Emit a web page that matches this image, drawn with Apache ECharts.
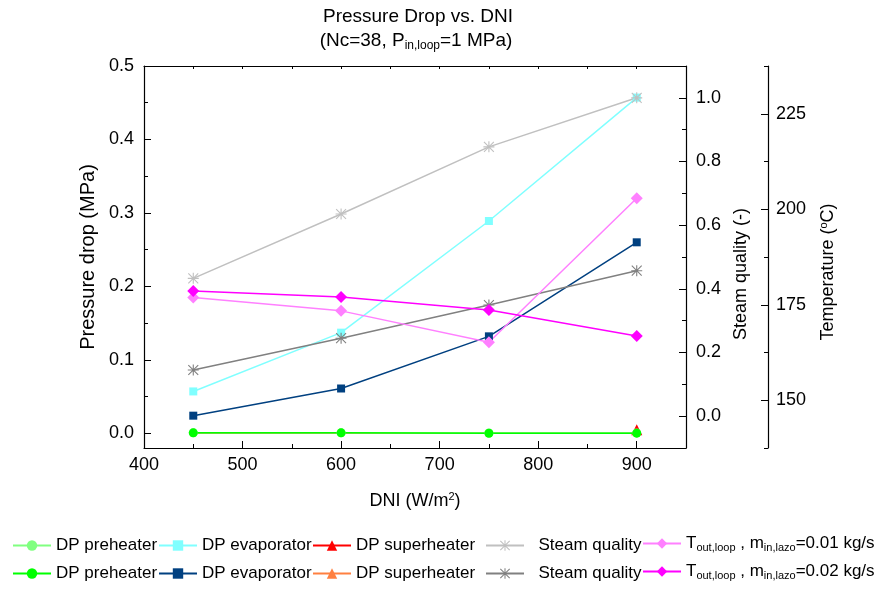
<!DOCTYPE html>
<html>
<head>
<meta charset="utf-8">
<script src="https://cdn.jsdelivr.net/npm/echarts@6/dist/echarts.min.js"></script>
<style>
html,body{margin:0;padding:0;background:#fff;}
#chart{width:876px;height:590px;}
</style>
</head>
<body>
<div id="chart"></div>
<script>
// ---- data ----
const dni = [450, 600, 750, 900];
const dpPre1 = [0.0008, 0.0008, 0.0004, 0.0004];
const dpPre2 = [0.0006, 0.0006, 0.0001, 0.0002];
const dpEvap1 = [0.057, 0.137, 0.289, 0.457];
const dpEvap2 = [0.024, 0.061, 0.132, 0.260];
const dpSup1 = [null, null, null, 0.005];
const dpSup2 = [0.0, 0.0, 0.0, 0.0];
const quality1 = [0.433, 0.635, 0.846, 1.0];
const quality2 = [0.145, 0.245, 0.349, 0.457];
const tOut1 = [176.9, 173.4, 165.2, 202.9];
const tOut2 = [178.6, 177.0, 173.6, 166.8];

const xTicks = [400, 500, 600, 700, 800, 900];
const xMinor = [450, 550, 650, 750, 850, 950];
const pTicks = [0.0, 0.1, 0.2, 0.3, 0.4, 0.5];
const pMinor = [0.05, 0.15, 0.25, 0.35, 0.45];
const qTicks = [0.0, 0.2, 0.4, 0.6, 0.8, 1.0];
const qMinor = [0.1, 0.3, 0.5, 0.7, 0.9];
const tTicks = [150, 175, 200, 225];
const tMinor = [137.5, 162.5, 187.5, 212.5, 237.5];

const FONT = 'Liberation Sans, Arial, Helvetica, sans-serif';
const STAR = 'path://M9 0L11 0L11 20L9 20Z M0 9L20 9L20 11L0 11Z M0.3 1.7L1.7 0.3L19.7 18.3L18.3 19.7Z M18.3 0.3L19.7 1.7L1.7 19.7L0.3 18.3Z';

function pairs(ys) { return dni.map((x, i) => [x, ys[i]]); }

const labels = {
  pre1: 'DP preheater', pre2: 'DP preheater',
  evap1: 'DP evaporator', evap2: 'DP evaporator',
  sup1: 'DP superheater', sup2: 'DP superheater',
  q1: '  Steam quality', q2: '  Steam quality',
  t1: 'T{sub|out,loop} , m{sub|in,lazo}=0.01 kg/s',
  t2: 'T{sub|out,loop} , m{sub|in,lazo}=0.02 kg/s'
};

function mkSeries(name, ys, color, symbol, size, yIdx) {
  return {
    name: name, type: 'line', data: pairs(ys), xAxisIndex: 0, yAxisIndex: yIdx,
    symbol: symbol, symbolSize: size, showSymbol: true, connectNulls: false,
    lineStyle: { color: color, width: 1.5 },
    itemStyle: { color: color },
    emphasis: { disabled: true }, animation: false
  };
}

const series = [
  mkSeries('sup1', dpSup1, '#ff0000', 'triangle', 11, 0),
  mkSeries('sup2', dpSup2, '#ff8040', 'triangle', 6, 0),
  mkSeries('pre1', dpPre1, '#80ff80', 'circle', 9, 0),
  mkSeries('pre2', dpPre2, '#00ff00', 'circle', 9, 0),
  mkSeries('evap1', dpEvap1, '#80ffff', 'rect', 8, 0),
  mkSeries('evap2', dpEvap2, '#004080', 'rect', 8, 0),
  mkSeries('q1', quality1, '#c0c0c0', STAR, 11, 2),
  mkSeries('q2', quality2, '#808080', STAR, 11, 2),
  mkSeries('t1', tOut1, '#ff80ff', 'diamond', 12, 4),
  mkSeries('t2', tOut2, '#ff00ff', 'diamond', 12, 4)
];

const subRich = {
  sub: { fontSize: 11, fontFamily: FONT, color: '#000', padding: [9, 0, 0, 0] }
};
const subRichTitle = {
  sub: { fontSize: 12, fontFamily: FONT, color: '#000', padding: [10, 0, 0, 0] }
};

function mkLegend(name, left, top) {
  return {
    data: [name], left: left, top: top, orient: 'horizontal',
    itemWidth: 38, itemHeight: 13, itemGap: 0, padding: 0,
    selectedMode: false,
    formatter: function (n) { return labels[n]; },
    textStyle: { fontFamily: FONT, fontSize: 17, color: '#000', rich: subRich }
  };
}

const r1 = 537, r2 = 565;
const legends = [
  mkLegend('pre1', 12, r1), mkLegend('pre2', 12, r2),
  mkLegend('evap1', 158, r1), mkLegend('evap2', 158, r2),
  mkLegend('sup1', 312, r1), mkLegend('sup2', 312, r2),
  mkLegend('q1', 485, r1), mkLegend('q2', 485, r2),
  mkLegend('t1', 642, r1 - 2), mkLegend('t2', 642, r2 - 2)
];

const axisLineStyle = { show: true, onZero: false, lineStyle: { color: '#000', width: 1.2 } };
const noLine = { show: false, onZero: false };
const tickLbl = { fontFamily: FONT, fontSize: 18, color: '#000' };
const nameStyle = { fontFamily: FONT, fontSize: 18, color: '#000' };
const supRich = { sup: { fontSize: 11, fontFamily: FONT, color: '#000', padding: [0, 0, 9, 0] } };

const option = {
  backgroundColor: '#fff',
  animation: false,
  title: [
    { text: 'Pressure Drop vs. DNI', left: 418, top: 7, textAlign: 'center', padding: 0,
      textStyle: { fontFamily: FONT, fontSize: 19, fontWeight: 'normal', color: '#000' } },
    { text: '(Nc=38, P{sub|in,loop}=1 MPa)', left: 416, top: 30, textAlign: 'center', padding: 0,
      textStyle: { fontFamily: FONT, fontSize: 19, fontWeight: 'normal', color: '#000', rich: subRichTitle } }
  ],
  legend: legends,
  grid: { left: 144, right: 190, top: 66, bottom: 142, containLabel: false },
  xAxis: [
    { type: 'value', position: 'bottom', min: 400, max: 950,
      axisLine: axisLineStyle,
      axisTick: { show: true, inside: true, length: 7, customValues: xTicks, lineStyle: { color: '#000' } },
      axisLabel: { customValues: xTicks, margin: 8, ...tickLbl },
      splitLine: { show: false },
      name: 'DNI (W/m{sup|2})', nameLocation: 'middle', nameGap: 43,
      nameTextStyle: { ...nameStyle, rich: supRich }
    },
    { type: 'value', position: 'bottom', min: 400, max: 950,
      axisLine: noLine,
      axisTick: { show: true, inside: true, length: 4, customValues: xMinor, lineStyle: { color: '#000' } },
      axisLabel: { show: false }, splitLine: { show: false } },
    { type: 'value', position: 'top', min: 400, max: 950,
      axisLine: axisLineStyle,
      axisTick: { show: true, inside: true, length: 3, customValues: xTicks.concat(xMinor), lineStyle: { color: '#000' } },
      axisLabel: { show: false }, splitLine: { show: false } }
  ],
  yAxis: [
    { type: 'value', position: 'left', min: -0.02, max: 0.5,
      axisLine: axisLineStyle,
      axisTick: { show: true, inside: true, length: 7, customValues: pTicks, lineStyle: { color: '#000' } },
      axisLabel: { customValues: pTicks, margin: 10, formatter: v => v.toFixed(1), ...tickLbl },
      splitLine: { show: false },
      name: 'Pressure drop (MPa)', nameLocation: 'middle', nameGap: 42,
      nameTextStyle: { ...nameStyle, fontSize: 20 } },
    { type: 'value', position: 'left', min: -0.02, max: 0.5,
      axisLine: noLine,
      axisTick: { show: true, inside: true, length: 4, customValues: pMinor, lineStyle: { color: '#000' } },
      axisLabel: { show: false }, splitLine: { show: false } },
    { type: 'value', position: 'right', offset: 0, min: -0.1, max: 1.1,
      axisLine: axisLineStyle,
      axisTick: { show: true, inside: true, length: 7, customValues: qTicks, lineStyle: { color: '#000' } },
      axisLabel: { customValues: qTicks, margin: 10, formatter: v => v.toFixed(1), ...tickLbl },
      splitLine: { show: false },
      name: 'Steam quality (-)', nameLocation: 'middle', nameGap: 40,
      nameTextStyle: { ...nameStyle, padding: [0, 34, 0, 0] } },
    { type: 'value', position: 'right', offset: 0, min: -0.1, max: 1.1,
      axisLine: noLine,
      axisTick: { show: true, inside: true, length: 4, customValues: qMinor, lineStyle: { color: '#000' } },
      axisLabel: { show: false }, splitLine: { show: false } },
    { type: 'value', position: 'right', offset: 82, min: 137.5, max: 237.5,
      axisLine: axisLineStyle,
      axisTick: { show: true, inside: true, length: 7, customValues: tTicks, lineStyle: { color: '#000' } },
      axisLabel: { customValues: tTicks, margin: 8, ...tickLbl },
      splitLine: { show: false },
      name: 'Temperature ({sup|o}C)', nameLocation: 'middle', nameGap: 50,
      nameTextStyle: { ...nameStyle, rich: supRich, padding: [0, 30, 0, 0] } },
    { type: 'value', position: 'right', offset: 82, min: 137.5, max: 237.5,
      axisLine: noLine,
      axisTick: { show: true, inside: true, length: 4, customValues: tMinor, lineStyle: { color: '#000' } },
      axisLabel: { show: false }, splitLine: { show: false } }
  ],
  series: series
};

const chart = echarts.init(document.getElementById('chart'), null, { renderer: 'canvas' });
chart.setOption(option);
</script>
</body>
</html>
